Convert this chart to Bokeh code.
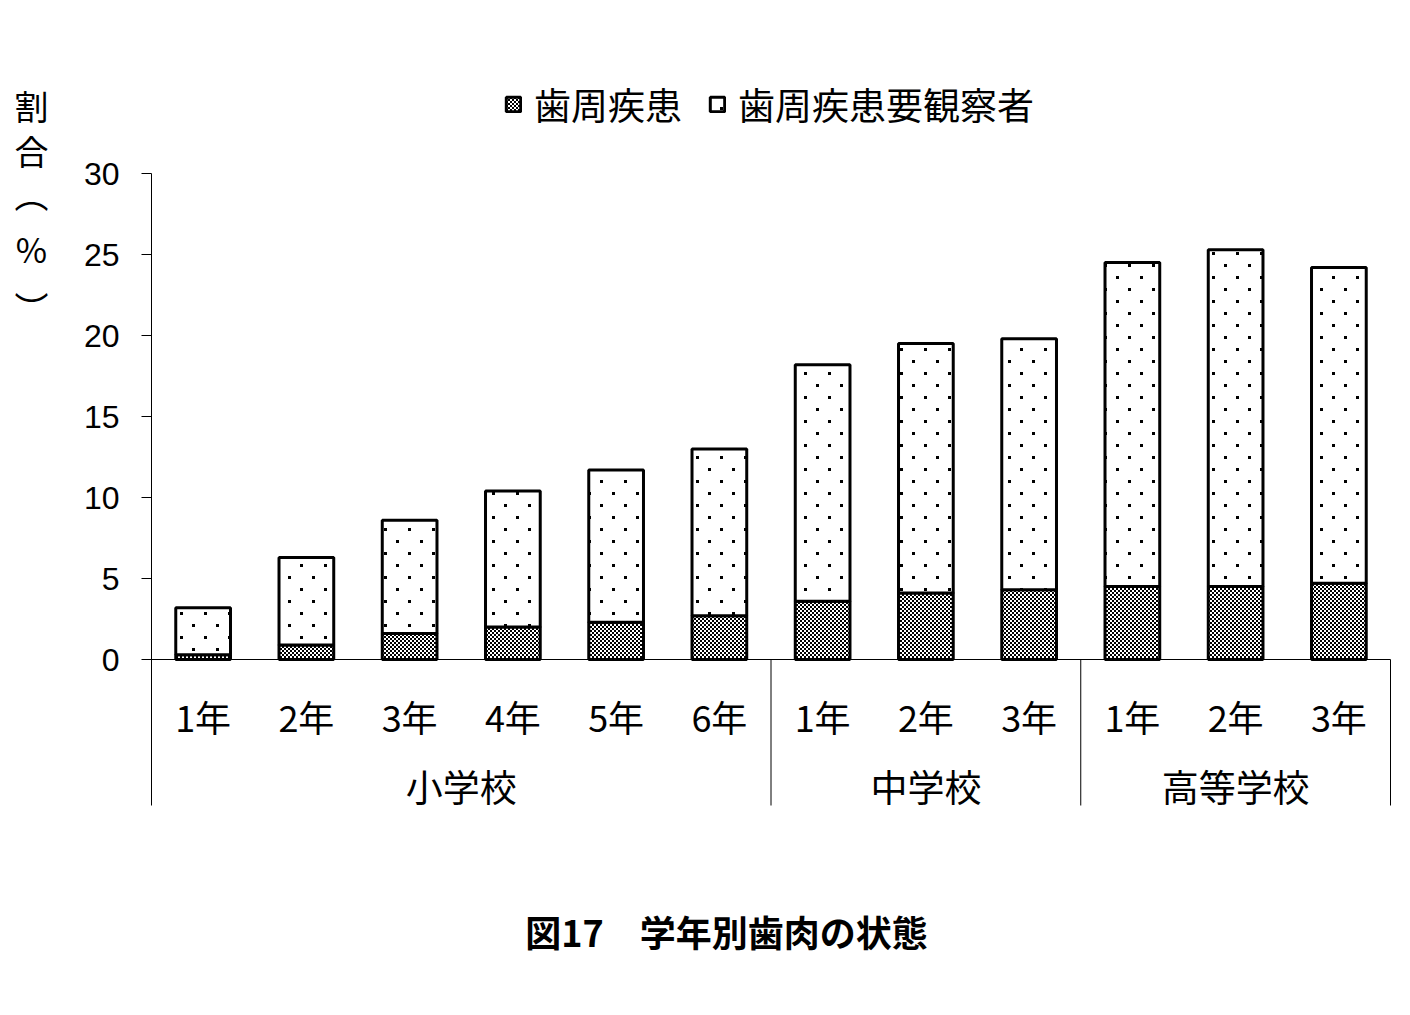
from bokeh.plotting import figure
from bokeh.models import Range1d, FixedTicker, ColumnDataSource, CanvasTexture
from bokeh.core.properties import value
from bokeh.embed import file_html
from bokeh.resources import INLINE

# ---- data ----
groups = ["小学校", "中学校", "高等学校"]
group_sizes = [6, 3, 3]
grades = ["1年", "2年", "3年", "4年", "5年", "6年", "1年", "2年", "3年", "1年", "2年", "3年"]
disease = [0.3, 0.9, 1.6, 2.0, 2.3, 2.7, 3.6, 4.1, 4.3, 4.5, 4.5, 4.7]
observe = [2.9, 5.4, 7.0, 8.4, 9.4, 10.3, 14.6, 15.4, 15.5, 20.0, 20.8, 19.5]
series_names = ["歯周疾患", "歯周疾患要観察者"]
y_ticks = [0, 5, 10, 15, 20, 25, 30]
y_label_chars = ["割", "合", "︵", "%", "︶"]
title_text = "図17　学年別歯肉の状態"

JP = "Noto Sans CJK JP"
n = len(grades)

# ---- layout (pixels) ----
W, H = 1405, 1010
AX_L, AX_R = 151, 1390      # x of axis / right end of category area
Y0, Y30 = 659, 173          # pixel rows of value 0 and 30
Y_BOT = 805                 # bottom of the category area
ux = (AX_R - AX_L) / n
uy = (Y0 - Y30) / 30.0


def dx(px):
    return (px - AX_L) / ux


def dy(py):
    return (Y0 - py) / uy


xs = [i + 0.5 for i in range(n)]
src = ColumnDataSource(dict(x=xs, disease=disease, observe=observe, grade=grades))

p = figure(width=W, height=H,
           x_range=Range1d(dx(0), dx(W)), y_range=Range1d(dy(H), dy(0)),
           x_axis_location=None,
           output_backend="svg", toolbar_location=None, min_border=0)
p.outline_line_color = None
p.grid.visible = False
p.background_fill_color = "white"

yax = p.yaxis[0]
yax.fixed_location = 0
yax.bounds = (dy(Y_BOT), 30)
yax.ticker = FixedTicker(ticks=y_ticks)
yax.minor_tick_line_color = None
yax.major_tick_in = 0
yax.major_tick_out = 10
yax.major_tick_line_color = "black"
yax.axis_line_color = "black"
yax.major_label_text_font = "Liberation Sans"
yax.major_label_text_font_size = "32px"
yax.major_label_text_color = "black"
yax.major_label_standoff = 22

# pattern tiles (each texture sizes its own tile)
checker = CanvasTexture(code="""
try { ctx.canvas.width = 4; ctx.canvas.height = 4; } catch (e) {}
ctx.fillStyle = '#ffffff'; ctx.fillRect(0, 0, 4, 4);
ctx.fillStyle = '#000000'; ctx.fillRect(0, 0, 2, 2); ctx.fillRect(2, 2, 2, 2);
""", repetition="repeat")
dots = CanvasTexture(code="""
try { ctx.canvas.width = 24; ctx.canvas.height = 24; } catch (e) {}
ctx.fillStyle = '#000000'; ctx.fillRect(0, 0, 3, 3); ctx.fillRect(12, 12, 3, 3);
""", repetition="repeat")

p.vbar_stack(["disease", "observe"], x="x", width=0.53, source=src,
             fill_color="white", line_color="black", line_width=3,
             hatch_pattern=[value("checker"), value("dots")],
             hatch_extra={"checker": checker, "dots": dots},
             hatch_scale=[4, 24],
             hatch_color="black", hatch_alpha=1.0,
             legend_label=series_names)

# baseline and group separators
bottom = dy(Y_BOT)
p.segment(x0=[0], y0=[0], x1=[n], y1=[0], line_color="black", line_width=1)
bounds = []
acc = 0
for s in group_sizes:
    acc += s
    bounds.append(acc)
p.segment(x0=bounds, y0=[0] * len(bounds), x1=bounds, y1=[bottom] * len(bounds),
          line_color="black", line_width=1)

# category labels
p.text(x="x", y=dy(715), text="grade", source=src, text_font=value(JP),
       text_font_size="36px", text_align="center", text_baseline="middle", text_color="black")
centers = []
start = 0
for s in group_sizes:
    centers.append(start + s / 2)
    start += s
p.text(x=centers, y=[dy(785)] * len(centers), text=groups, text_font=value(JP),
       text_font_size="37px", text_align="center", text_baseline="middle", text_color="black")

# legend
lg = p.legend[0]
lg.location = (504, H - 131)
lg.orientation = "horizontal"
lg.label_text_font = JP
lg.label_text_font_size = "37px"
lg.label_text_color = "black"
lg.glyph_width = 18
lg.glyph_height = 18
lg.label_standoff = 12
lg.spacing = 26
lg.padding = 0
lg.margin = 0
lg.border_line_color = None
lg.background_fill_alpha = 0

# vertical y-axis label (stacked characters)
label_rows = [105, 150, 193, 248, 307]
p.text(x=[dx(31)] * len(y_label_chars), y=[dy(r) for r in label_rows], text=y_label_chars,
       text_font=value(JP), text_font_size="34px", text_align="center",
       text_baseline="middle", text_color="black")

# caption
p.text(x=[dx(726)], y=[dy(930)], text=[title_text], text_font=value(JP),
       text_font_size="36px", text_font_style="bold", text_align="center",
       text_baseline="middle", text_color="black")

open("out.html", "w").write(file_html(p, INLINE))
